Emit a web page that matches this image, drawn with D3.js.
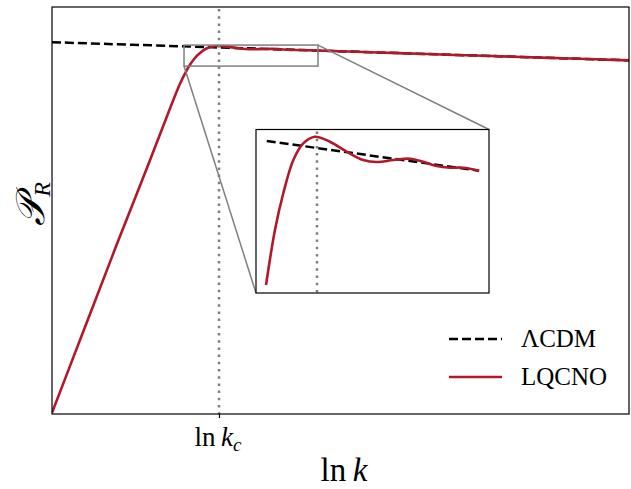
<!DOCTYPE html>
<html>
<head>
<meta charset="utf-8">
<script src="https://cdn.jsdelivr.net/npm/d3@7"></script>
<style>
  body { margin: 0; background: #fff; }
  text { font-family: "Liberation Serif", "DejaVu Serif", serif; }
</style>
</head>
<body>
<div id="chart"></div>
<script>
// Data: x is ln k, y is log10 P_R
var lcdmLnk = [-10, -7.605, -5.49, 0];
var lcdmLogP = [-8.949, -8.9846, -9.016, -9.098];

var lqcLnk = [-10, -9.5, -9.0, -8.851, -8.302, -8.012, -7.782, -7.666, -7.612, -7.523, -7.44,
  -7.34, -7.241, -7.124, -6.975, -6.808, -6.643, -6.509, -6.344, -6.177, -6.045, -5.911,
  -5.779, -5.646, -5.487, -5.0, -4.0, -3.0, -2.0, -1.0, 0];
var lqcLogP = [-11.99, -11.375, -10.76, -10.576, -9.918, -9.562, -9.29, -9.18, -9.1366, -9.0785, -9.0398,
  -9.0047, -8.9871, -8.9801, -8.9854, -8.9959, -9.0047, -9.0068, -9.0047, -9.0033, -9.0065, -9.011,
  -9.0128, -9.0128, -9.016, -9.0235, -9.0384, -9.0533, -9.0682, -9.0831, -9.098];

var lnkc = -7.106;
var zoomX = [-7.712, -5.39];     // zoomed window, ln k
var zoomY = [-9.145, -8.9725];   // zoomed window, log10 P_R
var insetRange = [-7.62, -5.48]; // part of the data shown in the inset

var red = "#b2182b";
var grey = "#7f7f7f";

var width = 631, height = 489;
var svg = d3.select("#chart").append("svg")
  .attr("width", width)
  .attr("height", height);

var x = d3.scaleLinear().domain([-10, 0]).range([52, 629]);
var y = d3.scaleLinear().domain([-12, -8.66]).range([414, 7]);

var lcdm = lcdmLnk.map(function(d, i) { return {k: d, p: lcdmLogP[i]}; });
var lqc = lqcLnk.map(function(d, i) { return {k: d, p: lqcLogP[i]}; });

svg.append("clipPath").attr("id", "mainclip")
  .append("rect").attr("x", 52).attr("y", 7).attr("width", 577).attr("height", 407);

var main = svg.append("g").attr("clip-path", "url(#mainclip)");

function lineGen(xs, ys) {
  return d3.line()
    .x(function(d) { return xs(d.k); })
    .y(function(d) { return ys(d.p); })
    .curve(d3.curveCatmullRom.alpha(0.5));
}

// dashed LCDM
main.append("path")
  .datum(lcdm)
  .attr("fill", "none")
  .attr("stroke", "#000")
  .attr("stroke-width", 2.5)
  .attr("stroke-dasharray", "9,4")
  .attr("d", lineGen(x, y));

// LQC curve
main.append("path")
  .datum(lqc)
  .attr("fill", "none")
  .attr("stroke", red)
  .attr("stroke-width", 2.6)
  .attr("d", lineGen(x, y));

// ln k_c marker
main.append("line")
  .attr("x1", Math.round(x(lnkc))).attr("x2", Math.round(x(lnkc)))
  .attr("y1", 9).attr("y2", 414)
  .attr("stroke", grey)
  .attr("stroke-width", 2.5)
  .attr("stroke-dasharray", "2.5,4.7");

// zoom rectangle + connectors
svg.append("rect")
  .attr("x", x(zoomX[0])).attr("y", y(zoomY[1]))
  .attr("width", x(zoomX[1]) - x(zoomX[0]))
  .attr("height", y(zoomY[0]) - y(zoomY[1]))
  .attr("fill", "none")
  .attr("stroke", grey)
  .attr("stroke-width", 1.5);

var inset = {x0: 256, x1: 489, y0: 129.5, y1: 293};

svg.append("line")
  .attr("x1", x(zoomX[0])).attr("y1", y(zoomY[0]))
  .attr("x2", inset.x0).attr("y2", inset.y1)
  .attr("stroke", grey).attr("stroke-width", 1.5);
svg.append("line")
  .attr("x1", x(zoomX[1])).attr("y1", y(zoomY[1]))
  .attr("x2", inset.x1).attr("y2", inset.y0)
  .attr("stroke", grey).attr("stroke-width", 1.5);

// main frame
svg.append("rect")
  .attr("x", 52).attr("y", 7).attr("width", 577).attr("height", 407)
  .attr("fill", "none").attr("stroke", "#000").attr("stroke-width", 1.2);

// x axis: only the ln k_c tick
var xAxis = svg.append("g")
  .attr("transform", "translate(0,414)")
  .call(d3.axisBottom(x).tickValues([lnkc]).tickSize(4).tickFormat(""));
xAxis.select(".domain").remove();
xAxis.selectAll("line").attr("stroke", "#000").attr("stroke-width", 1.2);

var tl = svg.append("text")
  .attr("x", x(lnkc) - 1)
  .attr("y", 446)
  .attr("text-anchor", "middle")
  .style("font-size", "27px");
tl.append("tspan").text("ln\u2009");
tl.append("tspan").style("font-style", "italic").text("k");
tl.append("tspan").style("font-style", "italic").style("font-size", "19px")
  .attr("dy", 5).text("c");

// axis labels
var xl = svg.append("text")
  .attr("x", 344)
  .attr("y", 481)
  .attr("text-anchor", "middle")
  .style("font-size", "33px");
xl.append("tspan").text("ln\u2009");
xl.append("tspan").style("font-style", "italic").text("k");

var yl = svg.append("text")
  .attr("transform", "translate(44,204) rotate(-90)")
  .attr("text-anchor", "middle")
  .style("font-size", "40px");
yl.append("tspan").style("font-style", "italic").text("\uD835\uDCAB");
yl.append("tspan").style("font-style", "italic").style("font-size", "24px")
  .attr("dy", 6).text("R");

// inset
var xi = d3.scaleLinear().domain(zoomX).range([inset.x0, inset.x1]);
var yi = d3.scaleLinear().domain(zoomY).range([inset.y1, inset.y0]);

svg.append("rect")
  .attr("x", inset.x0).attr("y", inset.y0)
  .attr("width", inset.x1 - inset.x0).attr("height", inset.y1 - inset.y0)
  .attr("fill", "#fff");

svg.append("clipPath").attr("id", "insetclip")
  .append("rect").attr("x", inset.x0).attr("y", inset.y0)
  .attr("width", inset.x1 - inset.x0).attr("height", inset.y1 - inset.y0);

var ig = svg.append("g").attr("clip-path", "url(#insetclip)");

function inWindow(d) { return d.k >= insetRange[0] && d.k <= insetRange[1]; }

ig.append("path")
  .datum(lcdm.filter(inWindow))
  .attr("fill", "none")
  .attr("stroke", "#000")
  .attr("stroke-width", 2.5)
  .attr("stroke-dasharray", "9,4")
  .attr("d", lineGen(xi, yi));

ig.append("path")
  .datum(lqc.filter(inWindow))
  .attr("fill", "none")
  .attr("stroke", red)
  .attr("stroke-width", 2.6)
  .attr("d", lineGen(xi, yi));

ig.append("line")
  .attr("x1", Math.round(xi(lnkc))).attr("x2", Math.round(xi(lnkc)))
  .attr("y1", inset.y0 + 2).attr("y2", inset.y1)
  .attr("stroke", grey)
  .attr("stroke-width", 2.5)
  .attr("stroke-dasharray", "2.5,4.7");

svg.append("rect")
  .attr("x", inset.x0).attr("y", inset.y0)
  .attr("width", inset.x1 - inset.x0).attr("height", inset.y1 - inset.y0)
  .attr("fill", "none").attr("stroke", "#000").attr("stroke-width", 1.2);

// legend
var legend = [
  {label: "\u039BCDM", color: "#000", dash: "9,4", w: 2.5, y: 339},
  {label: "LQCNO", color: red, dash: null, w: 2.6, y: 377}
];
var lg = svg.append("g");
legend.forEach(function(d) {
  lg.append("line")
    .attr("x1", 449).attr("x2", 502)
    .attr("y1", d.y).attr("y2", d.y)
    .attr("stroke", d.color)
    .attr("stroke-width", d.w)
    .attr("stroke-dasharray", d.dash);
  lg.append("text")
    .attr("x", 521)
    .attr("y", d.y + 8)
    .style("font-size", "25px")
    .text(d.label);
});
</script>
</body>
</html>
